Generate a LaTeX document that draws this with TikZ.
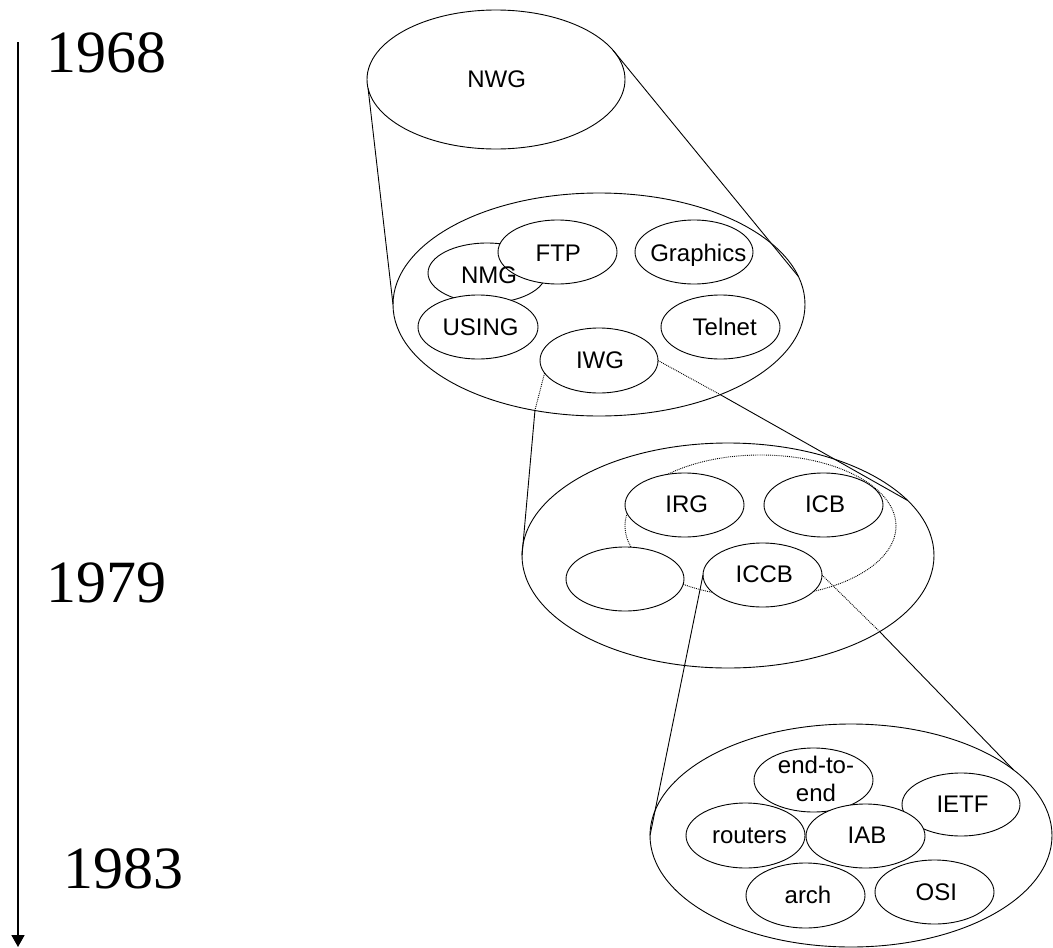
\documentclass[tikz,border=0pt]{standalone}
\usepackage{fontspec}
\setmainfont{Liberation Serif}
\newfontfamily\arialf{Liberation Sans}
\usetikzlibrary{shapes.geometric,arrows.meta}
\tikzset{
  ell/.style n args={2}{ellipse, draw, fill=white, line width=0.9pt, inner sep=0pt, outer sep=0pt,
    minimum width=#1pt, minimum height=#2pt},
  lbl/.style={anchor=base, inner sep=0pt, font=\arialf\fontsize{24}{28.3}\selectfont},
  yr/.style={anchor=base west, inner sep=0pt, font=\fontsize{60}{60}\selectfont},
  con/.style={line width=0.9pt},
  dotc/.style={line width=0.9pt, densely dotted},
}
\begin{document}
\begin{tikzpicture}[x=1pt,y=-1pt]
\useasboundingbox (0,0) rectangle (1053,948);

% timeline
\coordinate (atop) at (18,42);
\coordinate (abot) at (18,947);
\draw[line width=1.8pt, -{Triangle[width=13pt,length=12pt]}] (atop) -- (abot);
\node[yr] (y1968) at (46.3,72) {1968};
\node[yr] (y1979) at (46.3,602) {1979};
\node[yr] (y1983) at (63.3,888) {1983};

% level 1
\node[ell={258}{139}] (nwg) at (496,79.5) {};
\node[lbl] (tnwg) at (496.7,87) {NWG};

% level 2
\node[ell={412}{223}] (o2) at (599,304.5) {};
\node[ell={118}{60}] (nmg) at (487,273) {};
\node[ell={119}{64}] (ftp) at (557.5,252) {};
\node[ell={120}{64}] (using) at (478,327) {};
\node[ell={118}{64}] (graphics) at (694,252) {};
\node[ell={119}{64}] (telnet) at (720.5,327) {};
\node[ell={118}{65}] (iwg) at (599,360.5) {};
\node[lbl] (tnmg) at (489,283) {NMG};
\node[lbl] (tftp) at (558.3,261) {FTP};
\node[lbl] (tusing) at (480.5,335) {USING};
\node[lbl] (tgraphics) at (698.3,261) {Graphics};
\node[lbl] (ttelnet) at (724.7,335) {Telnet};
\node[lbl] (tiwg) at (600,368) {IWG};

% level 3
\node[ell={412}{225}] (o3) at (728,555.5) {};
\node[ell={271}{142}, fill=none, densely dotted] (proj) at (760.5,526) {};
\node[ell={119}{64}] (irg) at (684.5,505) {};
\node[ell={119}{64}] (icb) at (823.5,505) {};
\node[ell={118}{64}] (blank) at (625,579) {};
\node[ell={119}{64}] (iccb) at (762.5,575) {};
\node[lbl] (tirg) at (686.7,512) {IRG};
\node[lbl] (ticb) at (825,512) {ICB};
\node[lbl] (ticcb) at (764.3,582) {ICCB};

% level 4
\node[ell={402}{223}] (o4) at (851,835.5) {};
\node[ell={119}{64}] (e2e) at (813.5,780) {};
\node[ell={118}{63}] (ietf) at (961,804.5) {};
\node[ell={119}{65}] (routers) at (745.5,835.5) {};
\node[ell={119}{64}] (iab) at (865.5,836) {};
\node[ell={119}{65}] (arch) at (805.5,895.5) {};
\node[ell={119}{64}] (osi) at (934.5,892) {};
\node[font=\arialf\fontsize{24}{28.3}\selectfont, align=center, inner sep=0pt] (te2e) at (816,779) {end-to-\\end};
\node[lbl] (tietf) at (962.5,812) {IETF};
\node[lbl] (trouters) at (749.5,843) {routers};
\node[lbl] (tiab) at (867,843) {IAB};
\node[lbl] (tarch) at (808,903) {arch};
\node[lbl] (tosi) at (936.3,900) {OSI};

% connectors (zoom cones)
\draw[con] (nwg.184) -- (o2.west);
\draw[con] (nwg.14) -- (o2.8);

\coordinate (c1) at (535,410);
\coordinate (c2) at (720,394.5);
\draw[dotc] (iwg.193.6) -- (c1);
\draw[con] (c1) -- (o3.west);
\draw[dotc] (iwg.east) -- (c2);
\draw[con] (c2) -- (o3.17.8);

\coordinate (c4) at (880,632);
\draw[con] (iccb.west) -- (o4.west);
\draw[dotc] (iccb.east) -- (c4);
\draw[con] (c4) -- (o4.22.4);
\end{tikzpicture}
\end{document}
